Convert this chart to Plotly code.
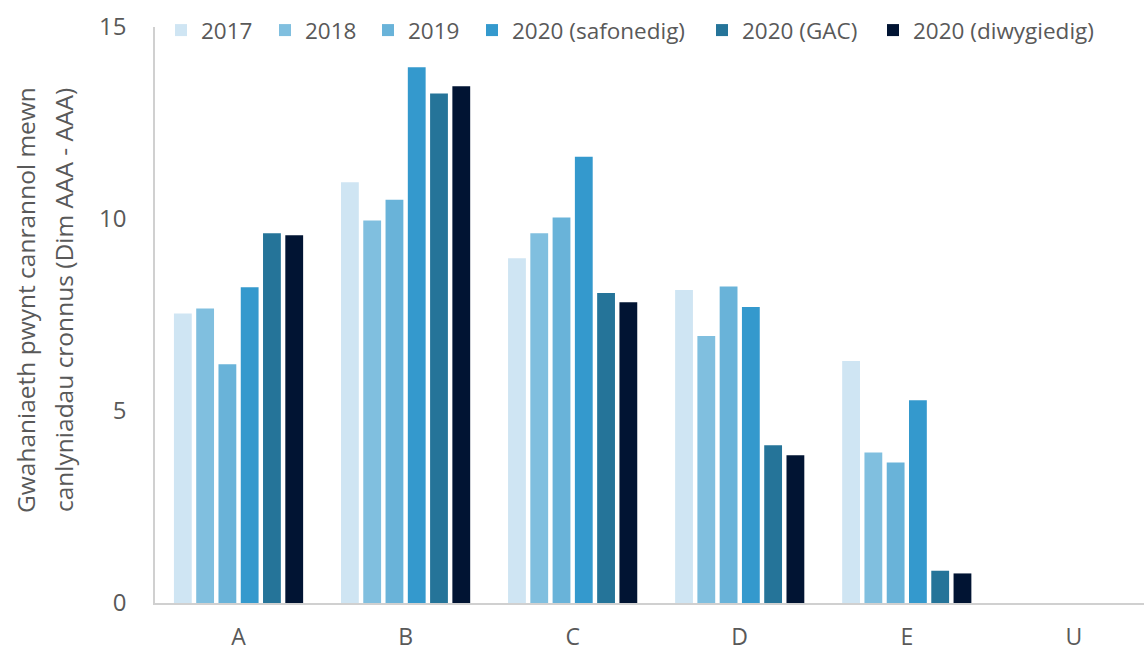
import plotly.graph_objects as go

categories = ["A", "B", "C", "D", "E", "U"]
series_names = ["2017", "2018", "2019", "2020 (safonedig)", "2020 (GAC)", "2020 (diwygiedig)"]
v2017 = [7.54, 10.96, 8.98, 8.15, 6.30, None]
v2018 = [7.67, 9.96, 9.63, 6.95, 3.92, None]
v2019 = [6.22, 10.50, 10.04, 8.24, 3.66, None]
v2020_saf = [8.22, 13.95, 11.62, 7.71, 5.28, None]
v2020_gac = [9.63, 13.27, 8.07, 4.11, 0.84, None]
v2020_diw = [9.58, 13.46, 7.83, 3.85, 0.77, None]
colors = ["#cfe5f3", "#80bfdf", "#69b3d9", "#3499cd", "#257499", "#011433"]
y_title_lines = ["Gwahaniaeth pwynt canrannol mewn", "canlyniadau cronnus (Dim AAA - AAA)"]

series_values = [v2017, v2018, v2019, v2020_saf, v2020_gac, v2020_diw]

# layout: pixel x where each legend entry's text starts
legend_text_px = [198, 302, 405, 509, 739, 910]

font_family = "Open Sans, Noto Sans, sans-serif"
grey = "#595959"
L, R, T, B, W, H = 155, 0, 27, 43, 1144, 646
plot_w = W - L - R

fig = go.Figure()
legend_layouts = {}
for i, (name, vals, col) in enumerate(zip(series_names, series_values, colors)):
    lname = "legend" if i == 0 else f"legend{i + 1}"
    fig.add_trace(go.Bar(x=categories, y=vals, name=name, marker_color=col,
                         marker_line_width=0, legend=lname))
    legend_layouts[lname] = dict(
        orientation="h", x=(legend_text_px[i] - 37 - L) / plot_w, y=0.994,
        xanchor="left", yanchor="middle",
        font=dict(size=22.5, color=grey, family=font_family),
        bgcolor="rgba(0,0,0,0)", itemwidth=30)

fig.update_layout(
    width=W, height=H,
    paper_bgcolor="white", plot_bgcolor="white",
    barmode="group", bargap=0.2, bargroupgap=0.2,
    margin=dict(l=L, r=R, t=T, b=B, autoexpand=False),
    font=dict(family=font_family, color=grey),
    showlegend=True,
    **legend_layouts,
)
fig.update_xaxes(range=[-0.5, 5.42], showline=True, linecolor="#d0d0d0", linewidth=1.5,
                 showgrid=False, ticks="", tickfont=dict(size=23, color=grey),
                 ticklabelstandoff=13, zeroline=False, automargin=False)
fig.update_yaxes(range=[0, 15], tickvals=[0, 5, 10, 15], showline=True, linecolor="#d0d0d0",
                 linewidth=1.5, showgrid=False, ticks="", zeroline=False, automargin=False,
                 tickfont=dict(size=24, color=grey), ticklabelstandoff=22)

for line, shift in zip(y_title_lines, [-130, -92]):
    fig.add_annotation(text=line, xref="paper", yref="paper", x=0, y=0.526,
                       xshift=shift, textangle=-90, showarrow=False,
                       xanchor="center", yanchor="middle",
                       font=dict(size=24.5, color=grey, family=font_family))

fig.write_html("out.html", config={"displayModeBar": False},
               post_script="document.body.style.margin='0';")
